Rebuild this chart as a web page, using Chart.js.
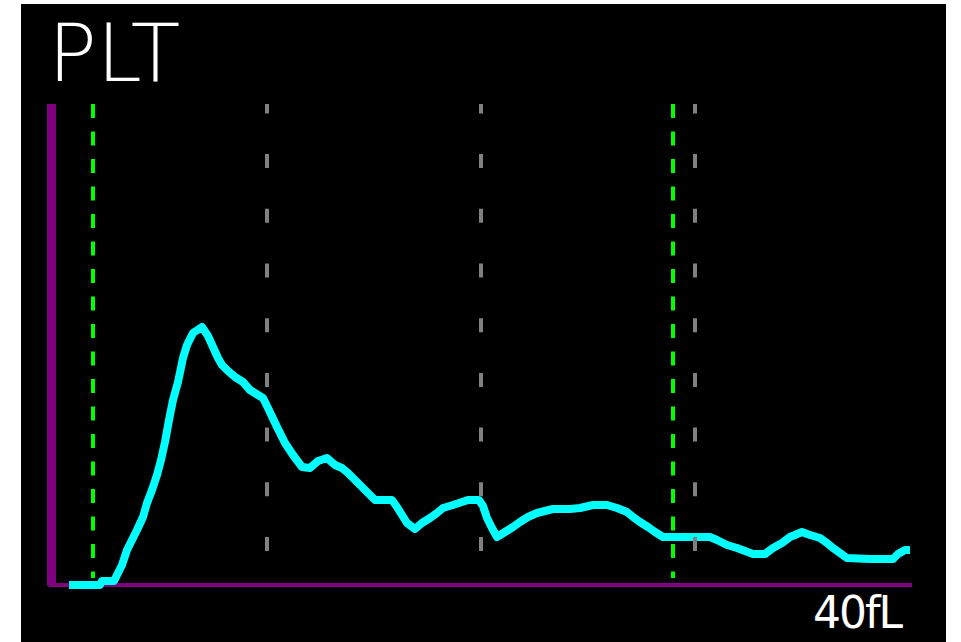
<!DOCTYPE html>
<html>
<head>
<meta charset="utf-8">
<script src="https://cdn.jsdelivr.net/npm/chart.js@4/dist/chart.umd.min.js"></script>
<style>
  html, body { margin: 0; padding: 0; background: #fff; }
  #screen { position: absolute; left: 21px; top: 4px; width: 925px; height: 638px; background: #000; }
  #plt { position: absolute; left: 48px; top: 13px; font-family: "DejaVu Sans"; font-weight: 200; font-size: 81px; line-height: 81px; color: #fff; }
  #unit { position: absolute; left: 813px; top: 591px; font-family: "DejaVu Sans"; font-size: 44px; line-height: 44px; color: #fff; letter-spacing: -2px; }
  #c { position: absolute; left: 0; top: 0; }
</style>
</head>
<body>
<div id="screen"></div>
<div id="plt">PLT</div>
<div id="unit">40fL</div>
<canvas id="c" width="961" height="642"></canvas>
<script>
// histogram channels (x) and counts (y)
const channels = [4.5, 12.25, 12.75, 15.75, 16.5, 17.75, 19, 20.25, 21.5, 23, 24, 25.25, 26.5, 27.5, 28.5, 29.5, 30.5, 31.75,
  33, 34, 35.5, 37.75, 39.25, 40.5, 41.75, 42.75, 44, 46, 48, 49.75, 51.75, 53, 54.25, 56.5, 58.5, 60.5, 62.75, 64.75,
  66.75, 69, 71, 72.75, 74.25, 76, 77.75, 79.25, 81, 85.25, 86.5, 87.75, 89, 91, 92.75, 94.75, 96.5, 98, 100.5, 104.25,
  107, 108, 109, 110.25, 111.5, 113.5, 115.5, 117.25, 119.25, 121.5, 125.5, 129.75, 132.25, 135.5, 139, 141.5, 144,
  145.5, 147.25, 149.25, 151, 153, 156.5, 164.75, 166.5, 169, 171.5, 175.5, 178.5, 180.5, 182.75, 184.75, 187.75,
  189.75, 192.25, 194, 195.5, 197.25, 199, 204.75, 210.5, 211.75, 213.5, 214.75];
const counts = [0, 0, 1, 1, 2.5, 5, 8.75, 11.25, 13.75, 17, 20.5, 23.75, 27.5, 31.25, 35.75, 41.25, 46.25, 50.75,
  56.75, 60, 63, 64.5, 62.25, 59.5, 56.75, 55, 53.75, 52, 50.75, 48.75, 47.5, 46.75, 44.25, 39.5, 35.5, 32.5, 29.5, 29.25,
  31, 31.75, 30, 29.25, 28, 26.25, 24.5, 23, 21.25, 21.25, 19.5, 17.5, 15.5, 14, 15.5, 16.75, 18, 19.25, 20, 21.25,
  21.25, 19.75, 16.75, 14.25, 12, 13.25, 14.5, 15.75, 17, 18, 19, 19, 19.25, 20, 20, 19.25, 18.25,
  17, 15.75, 14.5, 13.25, 12, 12, 12, 11.25, 10, 9.25, 7.75, 7.75, 9.25, 10.5, 12, 13.25,
  12.5, 11.75, 10.5, 9.25, 8, 6.75, 6.5, 6.5, 7.75, 8.75, 8.75];

// discriminator lines (green) and region markers (grey)
const greenLines = [10.5, 155.5];
const greyLines = [54, 107.5, 161];

const xMax = 215;
const yMax = 119.125;
const guideTop = 120.25;

const histo = channels.map((x, i) => ({ x: x, y: counts[i] }));

const datasets = [];
greenLines.forEach(x => {
  datasets.push({
    data: [{ x: x, y: guideTop }, { x: x, y: 1.75 }],
    borderColor: '#00ff00',
    borderWidth: 4,
    borderDash: [14, 13.5],
    borderCapStyle: 'butt',
    pointRadius: 0,
    clip: false
  });
});
greyLines.forEach(x => {
  datasets.push({
    data: [{ x: x, y: 8.5 }, { x: x, y: guideTop }],
    borderColor: '#808080',
    borderWidth: 4,
    borderDash: [14, 40.7],
    borderCapStyle: 'butt',
    pointRadius: 0,
    clip: false
  });
});
datasets.push({
  data: histo,
  borderColor: '#00ffff',
  borderWidth: 8,
  borderJoinStyle: 'round',
  pointRadius: 0,
  tension: 0,
  clip: false
});

const config = {
  type: 'line',
  data: { datasets },
  options: {
    responsive: false,
    animation: false,
    events: [],
    layout: { padding: { left: 51, top: 108.5, right: 50, bottom: 57 } },
    plugins: { legend: { display: false }, tooltip: { enabled: false } },
    scales: {
      x: {
        type: 'linear', min: 0, max: xMax,
        grid: { display: false },
        ticks: { display: false },
        border: { color: '#800080', width: 4 },
        afterFit: s => { s.height = 0; }
      },
      y: {
        min: 0, max: yMax,
        grid: { display: false },
        ticks: { display: false },
        border: { color: '#800080', width: 9 },
        afterFit: s => { s.width = 0; }
      }
    }
  }
};

const myChart = new Chart(document.getElementById('c'), config);
</script>
</body>
</html>
